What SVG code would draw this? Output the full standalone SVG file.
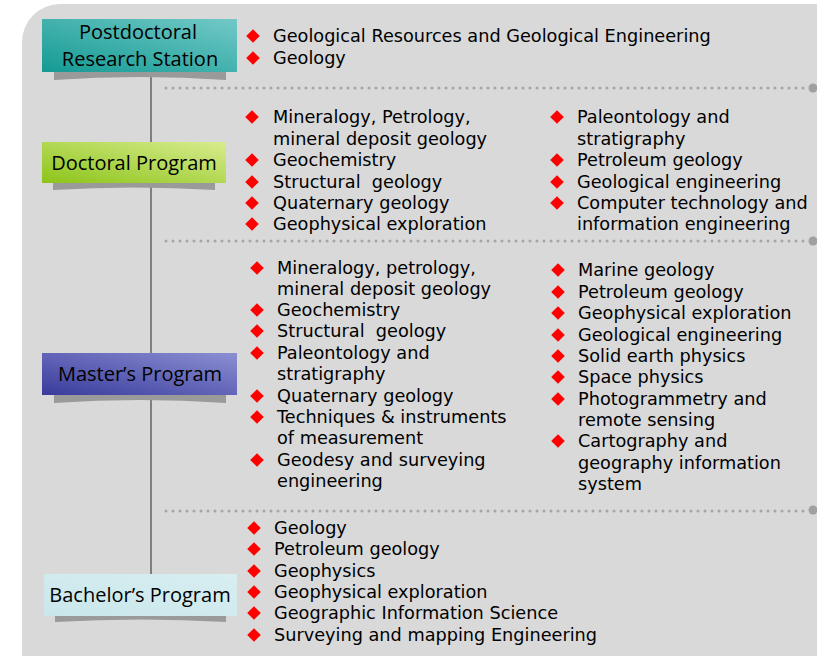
<svg xmlns="http://www.w3.org/2000/svg" width="817" height="656" viewBox="0 0 817 656">
<defs>
<linearGradient id="gTeal" x1="0" y1="1" x2="1" y2="0"><stop offset="0" stop-color="#149a93"/><stop offset="1" stop-color="#72c9c7"/></linearGradient>
<linearGradient id="gGreen" x1="0" y1="1" x2="1" y2="0"><stop offset="0" stop-color="#8cc419"/><stop offset="1" stop-color="#d8ec8e"/></linearGradient>
<linearGradient id="gBlue" x1="0" y1="1" x2="1" y2="0"><stop offset="0" stop-color="#393b9c"/><stop offset="1" stop-color="#8b8fd2"/></linearGradient>
<linearGradient id="gCyan" x1="0" y1="1" x2="1" y2="0"><stop offset="0" stop-color="#c9e7eb"/><stop offset="1" stop-color="#d8eef1"/></linearGradient>
<path id="dia" d="M0,-6.8 L6.8,0 L0,6.8 L-6.8,0 Z"/>
</defs>
<style>
.t{font-family:"DejaVu Sans",Verdana,sans-serif;font-size:17.7px;fill:#000}
.h{font-family:"Open Sans","Noto Sans",sans-serif;font-size:20px;fill:#000;text-anchor:middle}
.d{fill:#ff0000}
.dots{stroke:#a6a6a6;stroke-width:3;stroke-linecap:round;stroke-dasharray:0 7;fill:none}
.end{fill:#a0a0a0}
.sh{fill:#9a9a9a}
</style>
<rect x="0" y="0" width="817" height="656" fill="#ffffff"/>
<rect x="22" y="4" width="840" height="700" rx="38" fill="#d9d9d9"/>

<g id="connectors">
<line x1="151" y1="72" x2="151" y2="574" stroke="#7f7f7f" stroke-width="2"/>
<line class="dots" x1="166" y1="88" x2="806" y2="88"/><circle class="end" cx="813" cy="88" r="4.5"/>
<line class="dots" x1="166" y1="241" x2="806" y2="241"/><circle class="end" cx="813" cy="241" r="4.5"/>
<line class="dots" x1="166" y1="511" x2="806" y2="511"/><circle class="end" cx="813" cy="510" r="4.5"/>
</g>

<g id="postdoc">
<path class="sh" d="M54,72 L226,72 L226,80 Q140,74 54,80 Z"/>
<rect x="42" y="19" width="195" height="53" fill="url(#gTeal)"/>
<text class="h" x="138" y="39">Postdoctoral</text>
<text class="h" x="140" y="66">Research Station</text>
</g>
<g id="postdoc-list">
<use href="#dia" class="d" x="253" y="36"/><text class="t" x="273" y="42">Geological Resources and Geological Engineering</text>
<use href="#dia" class="d" x="253" y="58"/><text class="t" x="273" y="64">Geology</text>
</g>

<g id="doctoral">
<path class="sh" d="M53,183 L215,183 L215,190 Q134,185 53,190 Z"/>
<rect x="42" y="142" width="184" height="41" fill="url(#gGreen)"/>
<text class="h" x="134" y="170">Doctoral Program</text>
</g>
<g id="doctoral-list">
<use href="#dia" class="d" x="252" y="117"/><text class="t" x="273" y="123">Mineralogy, Petrology,</text>
<text class="t" x="273" y="145">mineral deposit geology</text>
<use href="#dia" class="d" x="252" y="160"/><text class="t" x="273" y="166">Geochemistry</text>
<use href="#dia" class="d" x="252" y="182"/><text class="t" x="273" y="188" xml:space="preserve">Structural  geology</text>
<use href="#dia" class="d" x="252" y="203"/><text class="t" x="273" y="209">Quaternary geology</text>
<use href="#dia" class="d" x="252" y="224"/><text class="t" x="273" y="230">Geophysical exploration</text>
<use href="#dia" class="d" x="557" y="117"/><text class="t" x="577" y="123">Paleontology and</text>
<text class="t" x="577" y="145">stratigraphy</text>
<use href="#dia" class="d" x="557" y="160"/><text class="t" x="577" y="166">Petroleum geology</text>
<use href="#dia" class="d" x="557" y="182"/><text class="t" x="577" y="188">Geological engineering</text>
<use href="#dia" class="d" x="557" y="203"/><text class="t" x="577" y="209">Computer technology and</text>
<text class="t" x="577" y="230">information engineering</text>
</g>

<g id="master">
<path class="sh" d="M54,395 L226,395 L226,403 Q140,397 54,403 Z"/>
<rect x="42" y="353" width="195" height="42" fill="url(#gBlue)"/>
<text class="h" x="140" y="381">Master’s Program</text>
</g>
<g id="master-list">
<use href="#dia" class="d" x="257" y="268"/><text class="t" x="277" y="274">Mineralogy, petrology,</text>
<text class="t" x="277" y="295">mineral deposit geology</text>
<use href="#dia" class="d" x="257" y="310"/><text class="t" x="277" y="316">Geochemistry</text>
<use href="#dia" class="d" x="257" y="331"/><text class="t" x="277" y="337" xml:space="preserve">Structural  geology</text>
<use href="#dia" class="d" x="257" y="353"/><text class="t" x="277" y="359">Paleontology and</text>
<text class="t" x="277" y="380">stratigraphy</text>
<use href="#dia" class="d" x="257" y="396"/><text class="t" x="277" y="402">Quaternary geology</text>
<use href="#dia" class="d" x="257" y="417"/><text class="t" x="277" y="423">Techniques &amp; instruments</text>
<text class="t" x="277" y="444">of measurement</text>
<use href="#dia" class="d" x="257" y="460"/><text class="t" x="277" y="466">Geodesy and surveying</text>
<text class="t" x="277" y="487">engineering</text>
<use href="#dia" class="d" x="558" y="270"/><text class="t" x="578" y="276">Marine geology</text>
<use href="#dia" class="d" x="558" y="292"/><text class="t" x="578" y="298">Petroleum geology</text>
<use href="#dia" class="d" x="558" y="313"/><text class="t" x="578" y="319">Geophysical exploration</text>
<use href="#dia" class="d" x="558" y="335"/><text class="t" x="578" y="341">Geological engineering</text>
<use href="#dia" class="d" x="558" y="356"/><text class="t" x="578" y="362">Solid earth physics</text>
<use href="#dia" class="d" x="558" y="377"/><text class="t" x="578" y="383">Space physics</text>
<use href="#dia" class="d" x="558" y="399"/><text class="t" x="578" y="405">Photogrammetry and</text>
<text class="t" x="578" y="426">remote sensing</text>
<use href="#dia" class="d" x="558" y="441"/><text class="t" x="578" y="447">Cartography and</text>
<text class="t" x="578" y="469">geography information</text>
<text class="t" x="578" y="490">system</text>
</g>

<g id="bachelor">
<path class="sh" d="M55,616 L226,616 L226,622 Q140,617 55,622 Z"/>
<rect x="44" y="574" width="193" height="42" fill="url(#gCyan)"/>
<text class="h" x="140" y="602">Bachelor’s Program</text>
</g>
<g id="bachelor-list">
<use href="#dia" class="d" x="254" y="528"/><text class="t" x="274" y="534">Geology</text>
<use href="#dia" class="d" x="254" y="549"/><text class="t" x="274" y="555">Petroleum geology</text>
<use href="#dia" class="d" x="254" y="571"/><text class="t" x="274" y="577">Geophysics</text>
<use href="#dia" class="d" x="254" y="592"/><text class="t" x="274" y="598">Geophysical exploration</text>
<use href="#dia" class="d" x="254" y="613"/><text class="t" x="274" y="619">Geographic Information Science</text>
<use href="#dia" class="d" x="254" y="635"/><text class="t" x="274" y="641">Surveying and mapping Engineering</text>
</g>
</svg>
